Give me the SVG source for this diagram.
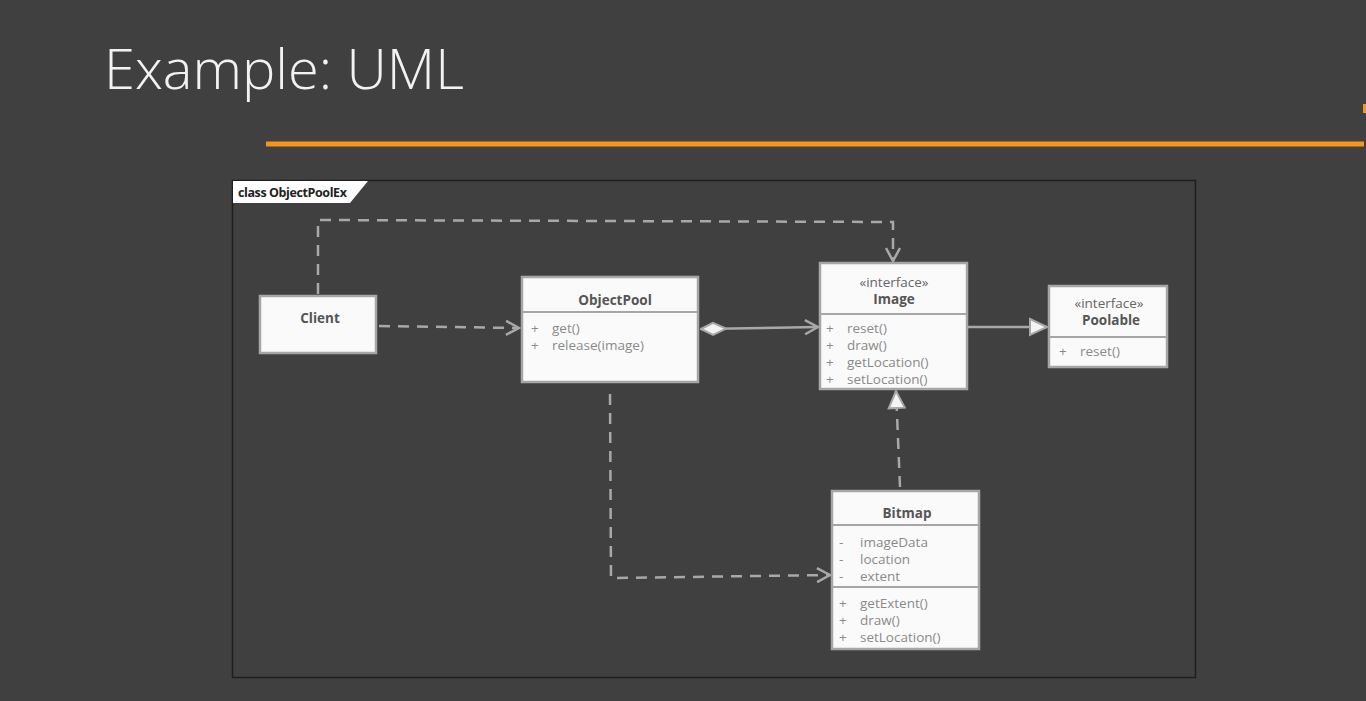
<svg xmlns="http://www.w3.org/2000/svg" width="1366" height="701" viewBox="0 0 1366 701">
<defs>
<style>
.title{font-family:"Open Sans","Liberation Sans",sans-serif;font-weight:300;font-size:56px;fill:#f2f2f2}
.box{fill:#fafafa;stroke:#a6a6a6;stroke-width:2.5}
.div{stroke:#a6a6a6;stroke-width:2;fill:none}
.name{font-family:"Open Sans","Liberation Sans",sans-serif;font-weight:bold;font-size:13.5px;fill:#555;text-anchor:middle}
.st{font-family:"Open Sans","Liberation Sans",sans-serif;font-size:13.5px;fill:#666;text-anchor:middle}
.mem{font-family:"Open Sans","Liberation Sans",sans-serif;font-size:13.5px;fill:#8a8a8a}
.dash{fill:none;stroke:#a8a8a8;stroke-width:2.5;stroke-dasharray:11 8}
.solid{fill:none;stroke:#a8a8a8;stroke-width:2.5}
.tab{font-family:"Open Sans","Liberation Sans",sans-serif;font-weight:bold;font-size:12.5px;fill:#222;letter-spacing:-0.4px}
</style>
<marker id="open" markerWidth="16" markerHeight="16" refX="14" refY="8" orient="auto" markerUnits="userSpaceOnUse">
<path d="M1,1 L14,8 L1,15" fill="none" stroke="#a8a8a8" stroke-width="2.5"/>
</marker>
<marker id="tri" markerWidth="22" markerHeight="20" refX="19" refY="10" orient="auto" markerUnits="userSpaceOnUse">
<path d="M2,2 L19,10 L2,18 Z" fill="#f4f4f4" stroke="#a8a8a8" stroke-width="2"/>
</marker>
<marker id="diamond" markerWidth="30" markerHeight="16" refX="1" refY="8" orient="auto" markerUnits="userSpaceOnUse">
<path d="M1,8 L13,2 L26,8 L13,14 Z" fill="#f4f4f4" stroke="#a8a8a8" stroke-width="2"/>
</marker>
</defs>
<rect x="0" y="0" width="1366" height="701" fill="#404040"/>
<text class="title" x="104" y="89">Example: UML</text>
<rect x="266" y="141.500" width="1098" height="5" fill="#f7941d"/>
<rect x="1363" y="104" width="3" height="9" fill="#f7941d"/>
<g id="frame">
<rect x="232.500" y="180.500" width="963" height="497" fill="none" stroke="#1e1e1e" stroke-width="1.5"/>
<path d="M233,181 L368,181 L350,203 L233,203 Z" fill="#ffffff"/>
<text class="tab" x="238" y="197">class ObjectPoolEx</text>
</g>
<g id="connectors">
<path class="dash" d="M318,294 L318,220 L893,222 L893,261" marker-end="url(#open)"/>
<path class="dash" d="M379,326 L519,328" marker-end="url(#open)"/>
<path class="solid" d="M701,329 L818,327" marker-start="url(#diamond)" marker-end="url(#open)"/>
<path class="solid" d="M968,327 L1047,327" marker-end="url(#tri)"/>
<path class="dash" d="M610,394 L611,578 L830,575" marker-end="url(#open)"/>
<path class="dash" d="M900,487 L896,391" marker-end="url(#tri)"/>
</g>
<g id="client">
<rect class="box" x="260" y="296" width="116" height="57"/>
<text class="name" x="320" y="323">Client</text>
</g>
<g id="objectpool">
<rect class="box" x="522" y="277" width="176" height="105"/>
<line class="div" x1="522" y1="312" x2="698" y2="312"/>
<text class="name" x="615" y="305">ObjectPool</text>
<text class="mem" x="531" y="333">+</text><text class="mem" x="552" y="333">get()</text>
<text class="mem" x="531" y="350">+</text><text class="mem" x="552" y="350">release(image)</text>
</g>
<g id="image">
<rect class="box" x="820" y="263" width="147" height="126"/>
<line class="div" x1="820" y1="314" x2="967" y2="314"/>
<text class="st" x="894" y="287">«interface»</text>
<text class="name" x="894" y="304">Image</text>
<text class="mem" x="826" y="333">+</text><text class="mem" x="847" y="333">reset()</text>
<text class="mem" x="826" y="350">+</text><text class="mem" x="847" y="350">draw()</text>
<text class="mem" x="826" y="367">+</text><text class="mem" x="847" y="367">getLocation()</text>
<text class="mem" x="826" y="384">+</text><text class="mem" x="847" y="384">setLocation()</text>
</g>
<g id="poolable">
<rect class="box" x="1049" y="286" width="118" height="81"/>
<line class="div" x1="1049" y1="337" x2="1167" y2="337"/>
<text class="st" x="1109" y="308">«interface»</text>
<text class="name" x="1111" y="325">Poolable</text>
<text class="mem" x="1059" y="356">+</text><text class="mem" x="1080" y="356">reset()</text>
</g>
<g id="bitmap">
<rect class="box" x="832" y="491" width="147" height="158"/>
<line class="div" x1="832" y1="525" x2="979" y2="525"/>
<line class="div" x1="832" y1="587" x2="979" y2="587"/>
<text class="name" x="907" y="518">Bitmap</text>
<text class="mem" x="839" y="547">-</text><text class="mem" x="860" y="547">imageData</text>
<text class="mem" x="839" y="564">-</text><text class="mem" x="860" y="564">location</text>
<text class="mem" x="839" y="581">-</text><text class="mem" x="860" y="581">extent</text>
<text class="mem" x="839" y="608">+</text><text class="mem" x="860" y="608">getExtent()</text>
<text class="mem" x="839" y="625">+</text><text class="mem" x="860" y="625">draw()</text>
<text class="mem" x="839" y="642">+</text><text class="mem" x="860" y="642">setLocation()</text>
</g>
</svg>
